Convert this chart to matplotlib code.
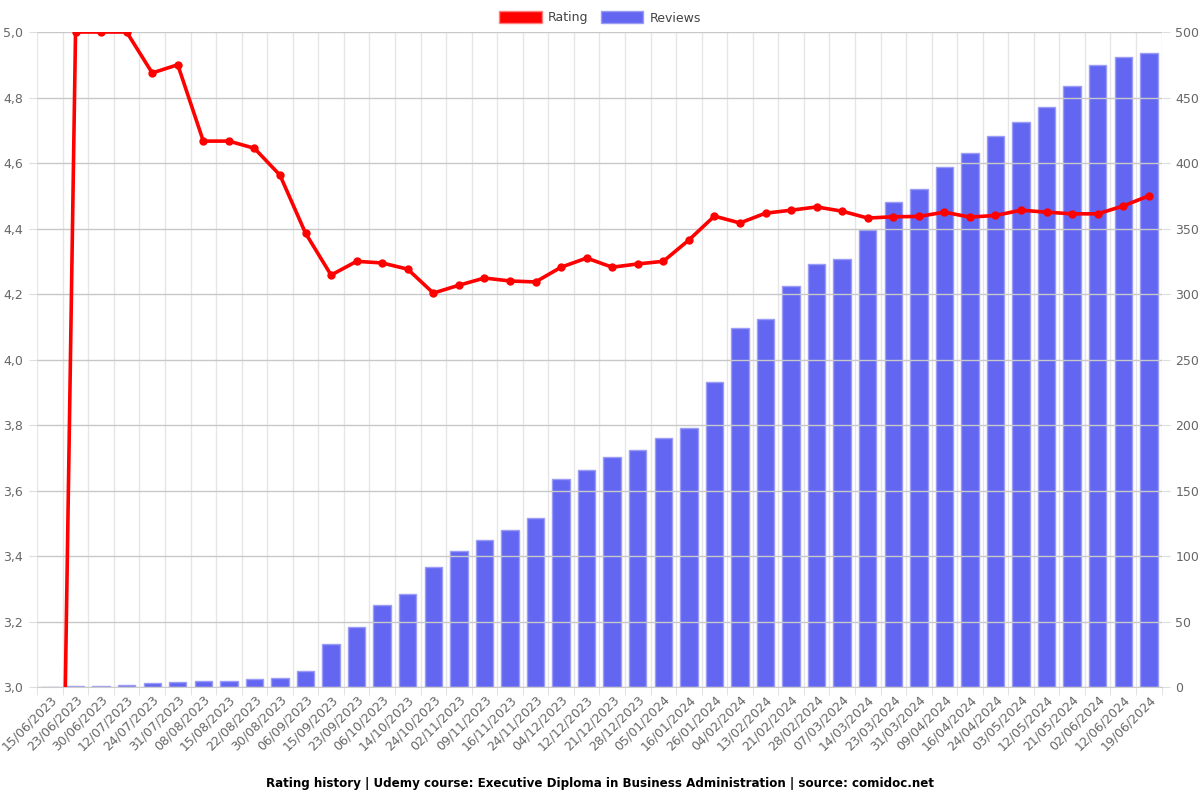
import numpy as np
import matplotlib
matplotlib.use("Agg")
from matplotlib import pyplot as plt
from matplotlib.patches import Patch
from matplotlib.ticker import FuncFormatter, MultipleLocator

dates = ['15/06/2023', '23/06/2023', '30/06/2023', '12/07/2023', '24/07/2023', '31/07/2023',
         '08/08/2023', '15/08/2023', '22/08/2023', '30/08/2023', '06/09/2023', '15/09/2023',
         '23/09/2023', '06/10/2023', '14/10/2023', '24/10/2023', '02/11/2023', '09/11/2023',
         '16/11/2023', '24/11/2023', '04/12/2023', '12/12/2023', '21/12/2023', '28/12/2023',
         '05/01/2024', '16/01/2024', '26/01/2024', '04/02/2024', '13/02/2024', '21/02/2024',
         '28/02/2024', '07/03/2024', '14/03/2024', '23/03/2024', '31/03/2024', '09/04/2024',
         '16/04/2024', '24/04/2024', '03/05/2024', '12/05/2024', '21/05/2024', '02/06/2024',
         '12/06/2024', '19/06/2024']

rating = [0, 5.0, 5.0, 5.0, 4.875, 4.9, 4.667, 4.667, 4.645, 4.563, 4.386, 4.258,
          4.30, 4.295, 4.276, 4.203, 4.227, 4.249, 4.24, 4.237, 4.282, 4.31,
          4.282, 4.292, 4.30, 4.365, 4.438, 4.417, 4.447, 4.456, 4.466, 4.453,
          4.432, 4.436, 4.437, 4.45, 4.435, 4.44, 4.456, 4.45, 4.445, 4.445,
          4.469, 4.50]

reviews = [0, 1, 1, 2, 3, 4, 5, 5, 6, 7, 12, 33, 46, 63, 71, 92, 104, 112, 120, 129,
           159, 166, 176, 181, 190, 198, 233, 274, 281, 306, 323, 327, 349, 370, 380,
           397, 408, 421, 431, 443, 459, 475, 481, 484]

bar_color = '#6366f1'
line_color = '#ff0000'
tick_color = '#666666'

fig = plt.figure(figsize=(12, 8), dpi=100)
ax = fig.add_axes([0.031, 0.141, 0.937, 0.819])
ax2 = ax.twinx()
x = np.arange(len(dates))

# bars on the base axes (right scale), line on the twin so it sits on top
ax.bar(x, reviews, width=0.68, color=bar_color, edgecolor='#9a9cf5', linewidth=1, zorder=2)
ax.set_ylim(0, 500)
ax.yaxis.set_major_locator(MultipleLocator(50))
ax.yaxis.tick_right()
ax.yaxis.set_label_position('right')
ax.set_xlim(-0.5, len(dates) - 0.5)
ax.set_xticks(x)
ax.set_xticklabels(dates, rotation=45, ha='right', rotation_mode='anchor')
ax.set_xticks(np.arange(-0.5, len(dates)), minor=True)
ax.grid(True, which='minor', axis='x', color='#e6e6e6', linewidth=1, zorder=0)
ax.tick_params(axis='x', which='major', length=0, pad=4, labelsize=9, labelcolor=tick_color)
ax.tick_params(axis='x', which='minor', length=6, color='#dddddd')
ax.tick_params(axis='y', length=6, color='#dddddd', labelsize=9, labelcolor=tick_color, pad=4)
ax.set_axisbelow(True)

ax2.yaxis.tick_left()
ax2.yaxis.set_label_position('left')
ax2.plot(x, rating, color=line_color, linewidth=2.6, marker='o', markersize=5, zorder=3)
ax2.set_ylim(3.0, 5.0)
ax2.yaxis.set_major_locator(MultipleLocator(0.2))
ax2.yaxis.set_major_formatter(FuncFormatter(lambda v, p: f'{v:.1f}'.replace('.', ',')))
ax2.tick_params(axis='y', length=6, color='#dddddd', labelsize=9, labelcolor=tick_color, pad=4)
ax2.grid(True, axis='y', color='#c8c8c8', linewidth=1)

for a in (ax, ax2):
    for s in a.spines.values():
        s.set_visible(False)
ax.spines['bottom'].set_visible(True)
ax.spines['bottom'].set_color('#cccccc')

handles = [Patch(facecolor=line_color, edgecolor='#ff8080'),
           Patch(facecolor=bar_color, edgecolor='#9a9cf5')]
fig.legend(handles, ['Rating', 'Reviews'], loc='upper center', bbox_to_anchor=(0.5, 1.0),
           ncol=2, frameon=False, fontsize=9, handlelength=3.4, handleheight=1.1,
           columnspacing=1.0, handletextpad=0.5, labelcolor='#444444')

fig.text(0.5, 0.021, 'Rating history | Udemy course: Executive Diploma in Business Administration | source: comidoc.net',
         ha='center', va='center', fontsize=8.6, fontweight='bold')

fig.savefig('out.png')
